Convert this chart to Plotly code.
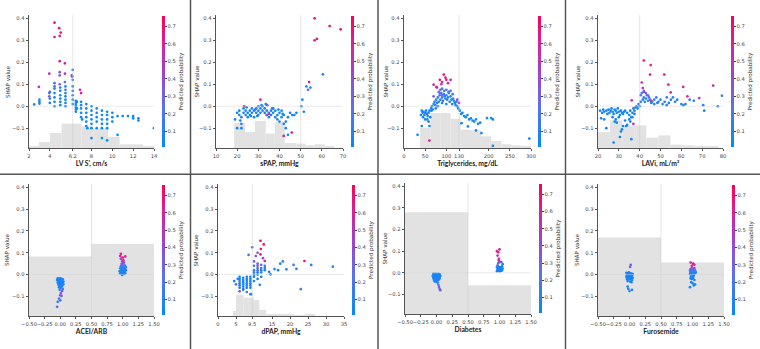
import plotly.graph_objects as go

# ---------------- data ----------------
# Panel 1: LV S'
lvs_x = [4.45, 4.9, 5.05, 4.45, 4.95, 4.95, 5.45, 3.95, 2.95, 5.45, 6.9, 7.0, 6.15,
         4.95, 4.95, 4.95, 3.95, 4.45, 6.1, 3.95, 5.45,
         2.5, 3.0, 3.0, 3.0, 4.0, 4.0, 4.0, 4.45, 4.45, 4.45, 4.45, 4.45, 4.45,
         5.0, 5.0, 5.0, 5.0, 5.0, 5.0, 5.5, 5.5, 5.5, 5.5, 5.5, 5.5, 5.5,
         6.2, 6.2, 6.2, 6.2, 6.2, 6.2, 6.2, 6.5, 6.5, 6.5, 6.5, 6.5, 6.5, 6.6, 6.6,
         7.0, 7.0, 7.0, 7.0, 7.0, 7.1, 7.5, 7.5, 7.5, 7.5, 7.5, 7.5, 7.6,
         8.0, 8.0, 8.0, 8.0, 8.0, 8.0, 8.0, 8.5, 8.5, 8.5, 8.5, 8.5,
         9.0, 9.0, 9.0, 9.0, 9.0, 9.0, 9.5, 9.5, 9.5, 9.5, 9.5, 9.5,
         10.0, 10.0, 10.0, 10.5, 10.5, 11.0, 11.5, 12.0, 12.0, 12.5, 12.5, 14.0]
lvs_shap = [0.38, 0.355, 0.335, 0.315, 0.32, 0.205, 0.195, 0.148, 0.088, 0.148, 0.075, 0.06, 0.135,
            0.155, 0.14, 0.1, 0.06, 0.09, 0.14, 0.045, 0.11,
            0.008, 0.03, 0.02, 0.012, 0.065, 0.035, 0.015, 0.105, 0.08, 0.06, 0.04, 0.02, 0.0,
            0.085, 0.07, 0.05, 0.035, 0.02, 0.005, 0.09, 0.075, 0.06, 0.045, 0.03, 0.015, 0.0,
            0.165, 0.12, 0.09, 0.07, 0.05, 0.03, 0.01, 0.025, 0.015, 0.005, -0.005, -0.015, -0.025, 0.02, -0.01,
            0.02, 0.005, -0.01, -0.03, -0.05, -0.06, 0.01, -0.01, -0.03, -0.05, -0.07, -0.09, -0.1,
            0.0, -0.02, -0.04, -0.06, -0.08, -0.1, -0.145, -0.01, -0.03, -0.05, -0.07, -0.1,
            -0.02, -0.04, -0.06, -0.08, -0.1, -0.145, -0.025, -0.04, -0.06, -0.08, -0.1, -0.155,
            -0.03, -0.05, -0.07, -0.13, -0.045, -0.045, -0.045, -0.045, -0.055, -0.055, -0.065, -0.1]
lvs_prob = [0.72, 0.68, 0.66, 0.62, 0.64, 0.6, 0.62, 0.55, 0.5, 0.5, 0.58, 0.6, 0.45,
            0.35, 0.3, 0.3, 0.35, 0.3, 0.3, 0.3, 0.25,
            0.06, 0.08, 0.06, 0.07, 0.1, 0.08, 0.07, 0.12, 0.1, 0.08, 0.07, 0.06, 0.05,
            0.1, 0.09, 0.08, 0.07, 0.06, 0.05, 0.1, 0.09, 0.08, 0.07, 0.06, 0.05, 0.05,
            0.12, 0.1, 0.09, 0.08, 0.07, 0.06, 0.05, 0.08, 0.07, 0.06, 0.05, 0.05, 0.04, 0.07, 0.05,
            0.07, 0.06, 0.05, 0.05, 0.04, 0.04, 0.07, 0.06, 0.05, 0.05, 0.04, 0.04, 0.04,
            0.06, 0.05, 0.05, 0.04, 0.04, 0.04, 0.03, 0.05, 0.05, 0.04, 0.04, 0.03,
            0.05, 0.05, 0.04, 0.04, 0.03, 0.03, 0.05, 0.05, 0.04, 0.04, 0.03, 0.03,
            0.05, 0.04, 0.04, 0.03, 0.05, 0.05, 0.05, 0.05, 0.04, 0.04, 0.04, 0.03]
lvs_edges = [2.0, 2.96, 4.01, 5.13, 7.04, 8.16, 9.6, 10.7, 12.95, 14.0]
lvs_hist = [0.013, 0.045, 0.113, 0.183, 0.163, 0.145, 0.083, 0.028, 0.015]

# Panel 2: sPAP
spap_x = [56.6, 63.7, 68.9, 57.7, 56.6, 54.0, 31.0, 23.3, 34.2, 42.0, 45.8,
          60.5, 52.7, 54.6, 50.8, 50.3, 51.5, 53.5,
          19, 20, 20, 21, 21, 22, 22, 22, 23, 23, 24, 24, 25, 25, 26, 26, 27, 27, 28, 28,
          29, 29, 30, 30, 30, 31, 31, 32, 32, 33, 33, 34, 34, 35, 35, 36, 36, 37, 37,
          38, 38, 39, 39, 40, 40, 41, 41, 42, 42, 43, 43, 44, 44, 45, 46, 47, 48,
          31.5, 34.0, 35.0, 21.5, 26.5, 28.5, 33.5, 36.5, 39.5, 41.5, 24.5, 29.5]
spap_shap = [0.40, 0.365, 0.35, 0.306, 0.30, 0.11, 0.03, 0.0, 0.005, -0.135, -0.12,
             0.145, 0.09, 0.085, 0.03, 0.0, -0.025, 0.075,
             -0.06, -0.03, -0.1, -0.04, -0.02, -0.05, -0.08, -0.1, -0.03, -0.01, -0.04, -0.02,
             -0.05, -0.03, -0.02, -0.04, -0.03, -0.01, -0.02, -0.05,
             -0.03, -0.01, -0.02, -0.04, 0.0, -0.01, -0.03, -0.02, 0.0, -0.03, -0.01, -0.04, -0.02,
             -0.03, -0.05, -0.02, -0.04, -0.03, -0.01,
             -0.05, -0.02, -0.04, -0.06, -0.03, -0.07, -0.05, -0.02, -0.08, -0.04, -0.07, -0.1,
             -0.13, -0.05, -0.03, -0.04, -0.04, -0.03,
             0.005, -0.04, -0.035, -0.065, -0.045, -0.015, 0.01, -0.01, -0.015, -0.035, -0.005, -0.045]
spap_prob = [0.72, 0.7, 0.66, 0.64, 0.62, 0.6, 0.6, 0.55, 0.5, 0.6, 0.55,
             0.08, 0.1, 0.12, 0.08, 0.07, 0.07, 0.15,
             0.05, 0.06, 0.06, 0.07, 0.06, 0.08, 0.07, 0.06, 0.07, 0.08, 0.06, 0.07,
             0.08, 0.07, 0.06, 0.07, 0.08, 0.06, 0.07, 0.06,
             0.08, 0.07, 0.06, 0.08, 0.09, 0.07, 0.06, 0.08, 0.07, 0.06, 0.07, 0.4, 0.07,
             0.08, 0.06, 0.07, 0.06, 0.07, 0.08,
             0.06, 0.07, 0.06, 0.05, 0.07, 0.06, 0.07, 0.06, 0.05, 0.06, 0.06, 0.05,
             0.05, 0.06, 0.07, 0.06, 0.06, 0.06,
             0.08, 0.35, 0.45, 0.06, 0.07, 0.06, 0.07, 0.08, 0.07, 0.06, 0.07, 0.06]
spap_edges = [18.6, 23.7, 28.4, 33.5, 37.8, 42.5, 48.0, 52.4, 56.6, 61.3, 66.0]
spap_hist = [0.188, 0.120, 0.203, 0.108, 0.195, 0.038, 0.033, 0.020, 0.028, 0.013]

# Panel 3: Triglycerides
tg_x = [40, 42, 44, 46, 48, 50, 52, 54, 56, 58, 60, 45, 55, 58, 62, 64, 66, 68, 70, 72, 74, 76,
        78, 80, 82, 84, 86, 88, 90, 92, 94, 96, 98, 100, 102, 104, 106, 108, 110, 112, 114, 116,
        118, 120, 122, 124, 126, 128, 132, 135, 138, 142, 146, 150, 154, 158, 162, 166, 170, 175,
        180, 196, 206, 210, 183, 151, 136, 170, 32, 42, 296, 210, 95, 100, 105, 90, 110, 115, 85,
        75, 65, 60, 50, 100, 90, 80,
        78, 86, 90, 126, 82, 70,
        70, 76.6, 94, 84.6, 90, 100, 110, 98, 130, 60, 104, 88]
tg_shap = [-0.04, -0.02, -0.03, -0.025, -0.04, -0.03, -0.02, -0.035, -0.045, -0.03, -0.02, -0.05,
           -0.06, -0.07, -0.05, -0.01, 0.0, -0.015, 0.01, 0.02, 0.005, 0.03, 0.015, 0.04, 0.02, 0.05,
           0.03, 0.06, 0.04, 0.025, 0.055, 0.045, 0.035, 0.05, 0.03, 0.04, 0.06, 0.02, 0.045, 0.03,
           0.01, 0.035, 0.025, 0.015, 0.005, 0.02, 0.0, -0.01, -0.02, -0.035, -0.03, -0.045, -0.05,
           -0.04, -0.06, -0.055, -0.065, -0.07, -0.06, -0.08, -0.075, -0.054, -0.054, -0.06, -0.122,
           -0.092, -0.077, -0.11, -0.13, -0.09, -0.147, -0.18, 0.07, 0.075, 0.065, 0.08, 0.07, 0.055,
           0.06, -0.01, -0.02, -0.09, -0.06, 0.01, 0.015, 0.0,
           0.085, 0.075, 0.05, 0.03, 0.065, 0.045,
           0.098, 0.088, 0.144, 0.12, 0.11, 0.12, 0.12, 0.13, 0.015, -0.156, 0.105, 0.1]
tg_prob = [0.06, 0.07, 0.06, 0.08, 0.07, 0.06, 0.07, 0.08, 0.06, 0.07, 0.08, 0.06, 0.07, 0.06,
           0.07, 0.08, 0.09, 0.07, 0.08, 0.1, 0.08, 0.12, 0.1, 0.14, 0.1, 0.15, 0.12, 0.16, 0.12,
           0.1, 0.14, 0.12, 0.1, 0.13, 0.1, 0.12, 0.15, 0.09, 0.12, 0.1, 0.08, 0.11, 0.09, 0.08,
           0.07, 0.09, 0.07, 0.06, 0.06, 0.06, 0.05, 0.06, 0.05, 0.06, 0.05, 0.05, 0.05, 0.05, 0.05,
           0.05, 0.05, 0.05, 0.05, 0.05, 0.04, 0.05, 0.05, 0.04, 0.05, 0.05, 0.04, 0.04, 0.16, 0.17,
           0.15, 0.18, 0.15, 0.12, 0.14, 0.07, 0.06, 0.06, 0.06, 0.08, 0.08, 0.07,
           0.35, 0.32, 0.3, 0.4, 0.28, 0.3,
           0.6, 0.62, 0.7, 0.66, 0.64, 0.62, 0.6, 0.68, 0.55, 0.6, 0.58, 0.5]
tg_edges = [38, 62, 86, 110, 134, 158, 182, 206, 230, 254, 278, 302]
tg_hist = [0.150, 0.263, 0.263, 0.220, 0.138, 0.133, 0.088, 0.053, 0.028, 0.020, 0.010]

# Panel 4: LAVi
lavi_x = [21, 22, 22.5, 23, 24, 24.5, 25, 25.5, 26, 26.5, 27, 27.5, 28, 28.5, 29, 29.5, 30, 30.5,
          31, 31.5, 32, 32.5, 33, 34, 35, 35.5, 36, 36.5, 37, 37.5, 38, 38.5, 39, 39.5, 40, 40.5,
          21.5, 23, 24, 27, 28, 28.5, 29, 30, 30.5, 31, 31.5, 32, 33, 34, 35, 36, 27.5, 33.5,
          35.5, 36.5, 37.5,
          40.5, 41, 41.5, 42, 42.5, 43, 43.5, 44, 44.5, 45, 45.5, 46, 47, 48, 48.5, 49, 50, 51,
          52, 53, 54, 55, 56, 57, 58, 60, 61, 62, 64, 66, 70.5, 71, 77.5, 79.5, 53, 47, 42, 43, 44,
          37, 42, 45.3, 45, 51.8, 53.8, 41, 41.5, 54.9, 60.9, 62.9, 68.6, 75.3, 36.2, 45.5, 42]
lavi_shap = [-0.02, -0.03, -0.015, -0.025, -0.02, -0.035, -0.015, -0.03, -0.02, -0.01, -0.025,
             -0.035, -0.015, -0.02, -0.03, -0.01, -0.025, -0.04, -0.02, -0.03, -0.035, -0.025,
             -0.02, -0.03, -0.04, -0.02, -0.05, -0.03, -0.01, -0.02, -0.005, 0.0, -0.01, 0.01, 0.0,
             0.02,
             -0.055, -0.06, -0.1, -0.05, -0.07, -0.06, -0.075, -0.05, -0.14, -0.115, -0.105, -0.09,
             -0.065, -0.085, -0.06, -0.15, -0.165, -0.09, -0.07, -0.05, -0.035,
             0.05, 0.06, 0.03, 0.04, 0.02, 0.035, 0.05, 0.025, 0.04, 0.03, 0.015, 0.02, 0.03, 0.04,
             0.015, 0.02, 0.03, 0.01, 0.02, 0.005, 0.015, 0.03, 0.04, 0.02, 0.03, 0.01, 0.005, 0.01,
             0.03, 0.025, 0.005, -0.02, 0.0, 0.048, 0.04, 0.01, 0.07, 0.06, 0.05,
             -0.08, 0.208, 0.187, 0.144, 0.144, 0.098, 0.108, 0.083, 0.063, 0.088, 0.045, 0.037,
             0.094, 0.027, 0.025, 0.065]
lavi_prob = [0.06, 0.07, 0.06, 0.08, 0.07, 0.06, 0.07, 0.06, 0.08, 0.07, 0.06, 0.07, 0.08, 0.06,
             0.07, 0.06, 0.08, 0.07, 0.06, 0.07, 0.06, 0.08, 0.07, 0.06, 0.07, 0.08, 0.06, 0.07,
             0.08, 0.07, 0.1, 0.09, 0.08, 0.1, 0.12, 0.12,
             0.05, 0.06, 0.05, 0.06, 0.05, 0.06, 0.05, 0.06, 0.05, 0.05, 0.06, 0.05, 0.06, 0.05,
             0.06, 0.05, 0.05, 0.06, 0.06, 0.07, 0.08,
             0.15, 0.16, 0.12, 0.14, 0.12, 0.13, 0.15, 0.12, 0.14, 0.12, 0.1, 0.12, 0.12, 0.14, 0.1,
             0.11, 0.12, 0.1, 0.11, 0.09, 0.1, 0.12, 0.13, 0.1, 0.11, 0.09, 0.08, 0.09, 0.1, 0.1,
             0.08, 0.08, 0.08, 0.12, 0.12, 0.09, 0.2, 0.3, 0.32,
             0.62, 0.66, 0.62, 0.6, 0.64, 0.58, 0.55, 0.5, 0.55, 0.56, 0.6, 0.55, 0.6, 0.55, 0.5, 0.45]
lavi_edges = [20.0, 25.8, 31.6, 37.4, 43.2, 49.0, 54.8, 60.6, 66.4, 72.2, 78.0]
lavi_hist = [0.120, 0.208, 0.170, 0.170, 0.078, 0.095, 0.025, 0.020, 0.015, 0.013]

# Panel 5: ACEI/ARB
acei_x = [-0.04, -0.02, 0.0, 0.02, 0.04, -0.03, -0.01, 0.01, 0.03, 0.05, -0.04, -0.02, 0.0, 0.02,
          0.04, -0.03, -0.01, 0.01, 0.03, -0.02, 0.0, 0.02, 0.04, -0.01, 0.03, 0.01, 0.0, 0.02,
          -0.02, 0.0, -0.04, -0.05, -0.05, 0.05,
          0.96, 0.98, 1.0, 1.02, 1.04, 0.97, 0.99, 1.01, 1.03, 1.05, 0.96, 0.98, 1.0, 1.02, 1.04,
          0.97, 0.99, 1.01, 1.03, 0.98, 1.0, 1.02, 0.99, 1.01, 0.97, 1.0, 0.96, 1.04, 0.97, 1.02,
          0.99, 0.95, 1.05]
acei_shap = [-0.018, -0.02, -0.018, -0.02, -0.022, -0.028, -0.03, -0.027, -0.03, -0.032, -0.036,
             -0.04, -0.038, -0.04, -0.036, -0.046, -0.05, -0.048, -0.052, -0.058, -0.062, -0.056,
             -0.066, -0.07, -0.075, -0.085, -0.095, -0.098, -0.11, -0.118, -0.125, -0.148, -0.025,
             -0.045,
             0.005, 0.01, 0.008, 0.012, 0.006, 0.018, 0.02, 0.022, 0.016, 0.02, 0.028, 0.03, 0.032,
             0.026, 0.03, 0.038, 0.04, 0.036, 0.042, 0.048, 0.05, 0.055, 0.06, 0.065, 0.072, 0.078,
             0.085, 0.083, 0.095, 0.003, -0.002, 0.015, 0.035]
acei_prob = [0.06, 0.07, 0.08, 0.06, 0.07, 0.08, 0.06, 0.07, 0.08, 0.06, 0.07, 0.08, 0.06, 0.07,
             0.08, 0.06, 0.07, 0.08, 0.06, 0.07, 0.1, 0.08, 0.12, 0.15, 0.35, 0.3, 0.4, 0.3, 0.2,
             0.15, 0.12, 0.25, 0.07, 0.08,
             0.06, 0.07, 0.08, 0.06, 0.07, 0.08, 0.06, 0.09, 0.07, 0.08, 0.1, 0.09, 0.12, 0.1, 0.11,
             0.15, 0.2, 0.18, 0.15, 0.3, 0.35, 0.4, 0.38, 0.55, 0.4, 0.6, 0.62, 0.58, 0.6, 0.06,
             0.06, 0.08, 0.12]
acei_edges = [-0.5, 0.5, 1.5]
acei_hist = [0.45, 0.547]

# Panel 6: dPAP
dpap_x = [4.5, 6, 6, 6, 6, 6, 6, 7, 7, 7, 7, 7, 7, 7, 8, 8, 8, 8, 8, 8, 8, 9, 9, 9, 9, 9, 9, 9,
          10, 10, 10, 10, 10, 10, 10, 11, 11, 11, 11, 11, 11, 11, 12, 12, 12, 12, 12, 13, 13, 13,
          9.5, 8.5, 5.5, 5, 6, 9.2, 11.6, 14.2, 14.6, 15.7, 16.7, 17.3, 18, 19, 21, 21.8, 23, 25.9,
          31.9, 10.5, 12.5, 11,
          24, 13, 11.8, 12.7, 11.9, 11.8]
dpap_shap = [-0.03, -0.01, -0.02, -0.03, -0.04, -0.05, -0.06, -0.015, -0.025, -0.035, -0.045,
             -0.055, -0.065, -0.07, -0.01, -0.02, -0.03, -0.04, -0.05, -0.06, -0.08, -0.01, -0.02,
             -0.03, -0.04, -0.05, -0.06, -0.09, 0.0, 0.01, 0.02, -0.01, -0.03, 0.04, 0.06, 0.0,
             0.01, 0.02, 0.03, 0.04, 0.05, -0.02, 0.01, 0.02, 0.03, 0.045, -0.01, 0.04, 0.03, 0.02,
             0.125, 0.09, -0.02, -0.045, -0.077, -0.09, -0.047, 0.012, 0.001, 0.025, 0.02, 0.05,
             0.06, 0.024, 0.044, 0.026, -0.067, 0.044, 0.036, 0.085, 0.075, 0.1,
             0.062, 0.062, 0.155, 0.138, 0.117, 0.092]
dpap_prob = [0.08, 0.07, 0.08, 0.07, 0.08, 0.07, 0.1, 0.07, 0.08, 0.07, 0.08, 0.07, 0.1, 0.12,
             0.07, 0.08, 0.07, 0.08, 0.07, 0.08, 0.15, 0.07, 0.08, 0.07, 0.08, 0.07, 0.1, 0.12, 0.1,
             0.12, 0.15, 0.08, 0.1, 0.2, 0.3, 0.1, 0.12, 0.14, 0.18, 0.25, 0.35, 0.08, 0.12, 0.15,
             0.2, 0.25, 0.08, 0.12, 0.1, 0.1,
             0.15, 0.2, 0.07, 0.3, 0.35, 0.12, 0.1, 0.08, 0.08, 0.08, 0.08, 0.1, 0.12, 0.08, 0.15,
             0.1, 0.18, 0.12, 0.1, 0.4, 0.38, 0.4,
             0.68, 0.62, 0.72, 0.7, 0.66, 0.6]
dpap_edges = [4.2, 5.0, 7.1, 10.0, 11.5, 13.4, 15.0, 18.0, 21.0, 24.0, 27.0]
dpap_hist = [0.038, 0.160, 0.139, 0.122, 0.046, 0.010, 0.008, 0.010, 0.006, 0.012]

# Panel 7: Diabetes
diab_x = [-0.05, -0.03, -0.01, 0.01, 0.03, 0.05, -0.06, -0.04, -0.02, 0.0, 0.02, 0.04, 0.06,
          -0.05, -0.03, -0.01, 0.01, 0.03, 0.05, -0.04, -0.02, 0.0, 0.02, 0.04, -0.03, 0.0, 0.02,
          0.03, 0.04, 0.05, 0.06,
          0.96, 0.98, 1.0, 1.02, 1.04, 0.97, 0.99, 1.01, 1.03, 1.05, 0.96, 0.98, 1.0, 1.02, 1.04,
          0.97, 1.03, 1.05,
          0.96, 0.98, 1.0, 0.97, 0.99, 1.0, 0.98, 0.99]
diab_shap = [-0.005, -0.006, -0.004, -0.008, -0.005, -0.007, -0.015, -0.014, -0.016, -0.013,
             -0.015, -0.017, -0.014, -0.024, -0.023, -0.026, -0.022, -0.025, -0.024, -0.032,
             -0.033, -0.031, -0.034, -0.03, -0.04, -0.042, -0.045, -0.055, -0.065, -0.075, -0.08,
             0.008, 0.01, 0.007, 0.009, 0.011, 0.017, 0.019, 0.016, 0.018, 0.02, 0.026, 0.028,
             0.025, 0.027, 0.03, 0.035, 0.05, 0.04,
             0.1, 0.095, 0.108, 0.08, 0.065, 0.05, 0.045, 0.058]
diab_prob = [0.07, 0.08, 0.06, 0.07, 0.08, 0.06, 0.07, 0.08, 0.06, 0.07, 0.08, 0.06, 0.07, 0.08,
             0.06, 0.07, 0.08, 0.06, 0.07, 0.08, 0.06, 0.07, 0.08, 0.1, 0.1, 0.12, 0.15, 0.2, 0.3,
             0.32, 0.3,
             0.07, 0.08, 0.06, 0.07, 0.08, 0.06, 0.07, 0.08, 0.06, 0.07, 0.08, 0.06, 0.07, 0.08,
             0.06, 0.1, 0.12, 0.1,
             0.62, 0.6, 0.66, 0.58, 0.5, 0.45, 0.35, 0.55]
diab_edges = [-0.5, 0.5, 1.5]
diab_hist = [0.776, 0.219]

# Panel 8: Furosemide
furo_x = [-0.05, -0.03, -0.01, 0.01, 0.03, 0.05, -0.04, -0.02, 0.0, 0.02, 0.04, -0.05, -0.03,
          -0.01, 0.01, 0.03, 0.05, -0.04, -0.02, 0.0, 0.02, 0.04, -0.03, 0.01, 0.03,
          0.02, 0.01, -0.02, 0.0, 0.04, -0.03,
          0.96, 0.98, 1.0, 1.02, 1.04, 0.97, 0.99, 1.01, 1.03, 1.05, 0.96, 0.98, 1.0, 1.02, 1.04,
          0.97, 0.99, 1.01, 1.03, 0.98, 1.0, 1.02, 0.97, 0.99, 1.01, 1.03, 0.98, 1.0, 1.02, 0.96,
          1.04, 0.99, 1.01, 0.97, 1.03]
furo_shap = [0.008, 0.005, 0.01, 0.006, 0.004, 0.002, -0.003, -0.005, 0.0, -0.004, -0.006, -0.01,
             -0.012, -0.009, -0.011, -0.013, -0.015, -0.02, -0.018, -0.022, -0.019, -0.025, -0.03,
             -0.032, -0.035,
             0.045, 0.035, -0.065, -0.075, -0.07, -0.055,
             0.002, 0.005, 0.0, 0.004, 0.006, 0.01, 0.012, 0.009, 0.014, 0.011, 0.018, 0.02, 0.016,
             0.022, 0.019, 0.026, 0.028, 0.025, 0.03, -0.008, -0.01, -0.006, -0.018, -0.02, -0.016,
             -0.025, -0.035, -0.04, -0.05, -0.058, -0.045,
             0.04, 0.05, 0.055, 0.045]
furo_prob = [0.07, 0.08, 0.06, 0.07, 0.08, 0.06, 0.07, 0.08, 0.06, 0.07, 0.08, 0.06, 0.07, 0.08,
             0.06, 0.07, 0.08, 0.06, 0.07, 0.08, 0.06, 0.07, 0.08, 0.06, 0.07,
             0.35, 0.3, 0.1, 0.12, 0.1, 0.08,
             0.07, 0.08, 0.06, 0.1, 0.08, 0.1, 0.12, 0.09, 0.14, 0.1, 0.15, 0.2, 0.12, 0.25, 0.18,
             0.3, 0.35, 0.28, 0.4, 0.07, 0.06, 0.07, 0.06, 0.07, 0.06, 0.07, 0.06, 0.07, 0.06, 0.07,
             0.06, 0.6, 0.65, 0.55, 0.5]
furo_edges = [-0.5, 0.5, 1.5]
furo_hist = [0.595, 0.405]

# tick labels
lvs_ticks = [2, 4, 6.2, 8, 10, 12, 14]
spap_ticks = [10, 20, 30, 40, 50, 60, 70]
tg_ticks = [0, 50, 100, 130, 200, 250, 300]
lavi_ticks = [20, 30, 40, 50, 60, 70, 80]
dpap_ticks = [0, 5, 9.5, 15, 20, 25, 30, 35]
binary_ticks = [-0.5, -0.25, 0.0, 0.25, 0.5, 0.75, 1.0, 1.25, 1.5]
binary_ticktext = ["\u22120.50", "\u22120.25", "0.00", "0.25", "0.50", "0.75", "1.00", "1.25", "1.50"]
shap_ticks = [-0.1, 0.0, 0.1, 0.2, 0.3, 0.4]
shap_ticktext = ["\u22120.1", "0.0", "0.1", "0.2", "0.3", "0.4"]
prob_ticks = [0.1, 0.2, 0.3, 0.4, 0.5, 0.6, 0.7]
cutoffs = [6.2, 50, 130, 40, 0.5, 9.5, 0.5, 0.5]
titles = ["LV S', cm/s", "sPAP, mmHg", "Triglycerides, mg/dL", "LAVi, mL/m\u00b2",
          "ACEI/ARB", "dPAP, mmHg", "Diabetes", "Furosemide"]

# ---------------- layout helpers ----------------
W, H = 760, 349
panels = [
    dict(x=lvs_x, y=lvs_shap, c=lvs_prob, e=lvs_edges, h=lvs_hist, rng=[2, 14], tv=lvs_ticks,
         px=(29, 154), py=(15, 148), cb=162, yt=7.5),
    dict(x=spap_x, y=spap_shap, c=spap_prob, e=spap_edges, h=spap_hist, rng=[10, 70], tv=spap_ticks,
         px=(216, 343), py=(15, 148), cb=351, yt=196),
    dict(x=tg_x, y=tg_shap, c=tg_prob, e=tg_edges, h=tg_hist, rng=[0, 300], tv=tg_ticks,
         px=(404, 531), py=(15, 148), cb=538, yt=385),
    dict(x=lavi_x, y=lavi_shap, c=lavi_prob, e=lavi_edges, h=lavi_hist, rng=[20, 80], tv=lavi_ticks,
         px=(598, 723), py=(15, 148), cb=731, yt=577),
    dict(x=acei_x, y=acei_shap, c=acei_prob, e=acei_edges, h=acei_hist, rng=[-0.5, 1.5],
         tv=binary_ticks, tt=binary_ticktext, px=(29, 154), py=(184, 316), cb=162, yt=7),
    dict(x=dpap_x, y=dpap_shap, c=dpap_prob, e=dpap_edges, h=dpap_hist, rng=[0, 35], tv=dpap_ticks,
         px=(218, 344), py=(184, 316), cb=352, yt=195.5),
    dict(x=diab_x, y=diab_shap, c=diab_prob, e=diab_edges, h=diab_hist, rng=[-0.5, 1.5],
         tv=binary_ticks, tt=binary_ticktext, px=(405, 531), py=(183, 314), cb=539, yt=384),
    dict(x=furo_x, y=furo_shap, c=furo_prob, e=furo_edges, h=furo_hist, rng=[-0.5, 1.5],
         tv=binary_ticks, tt=binary_ticktext, px=(598, 724), py=(184, 316), cb=732, yt=577),
]

cscale = [[0.0, "#008bfb"], [0.3, "#5a72ec"], [0.55, "#9b45d0"], [0.8, "#dc1f97"], [1.0, "#ff0052"]]
AX = "#555555"
TXT = "#444444"
TICKF = dict(family="DejaVu Sans", size=5.2, color=TXT)

fig = go.Figure()
layout = dict(width=W, height=H, margin=dict(l=0, r=0, t=0, b=0, autoexpand=False),
              paper_bgcolor="white", plot_bgcolor="rgba(0,0,0,0)", showlegend=False)
shapes = []
annotations = []

for i, p in enumerate(panels):
    n = i + 1
    xa = "x" if n == 1 else f"x{n}"
    ya = "y" if n == 1 else f"y{n}"
    yo = f"y{n + 8}"
    xkey = "xaxis" if n == 1 else f"xaxis{n}"
    ykey = "yaxis" if n == 1 else f"yaxis{n}"
    ok = f"yaxis{n + 8}"
    xd = [p["px"][0] / W, p["px"][1] / W]
    yd = [1 - p["py"][1] / H, 1 - p["py"][0] / H]

    e = p["e"]
    centers = [(e[k] + e[k + 1]) / 2 for k in range(len(e) - 1)]
    widths = [e[k + 1] - e[k] for k in range(len(e) - 1)]
    fig.add_trace(go.Bar(x=centers, y=p["h"], width=widths, xaxis=xa, yaxis=ya,
                         marker=dict(color="#e2e2e2", line=dict(width=0)), hoverinfo="skip"))
    fig.add_trace(go.Scatter(
        x=p["x"], y=p["y"], mode="markers", xaxis=xa, yaxis=yo,
        marker=dict(size=2.7, color=p["c"], colorscale=cscale, cmin=0.01, cmax=0.76,
                    line=dict(width=0), showscale=True,
                    colorbar=dict(x=p["cb"] / W, xanchor="left", xpad=0, ypad=0,
                                  y=(yd[0] + yd[1]) / 2, yanchor="middle",
                                  len=(yd[1] - yd[0]) * 0.985, lenmode="fraction",
                                  thickness=2.5, outlinewidth=0,
                                  tickvals=prob_ticks, tickfont=TICKF, ticks="outside",
                                  ticklen=2, tickwidth=0.6, tickcolor=TXT,
                                  title=dict(text="Predicted probability", side="right",
                                             font=dict(family="DejaVu Sans", size=5.6, color="#333")))),
    ))
    tt = p.get("tt", [("%g" % v) for v in p["tv"]])
    layout[xkey] = dict(domain=xd, range=p["rng"], anchor=ya, tickvals=p["tv"], ticktext=tt,
                        tickangle=0, automargin=False,
                        showline=True, linecolor=AX, linewidth=0.8, ticks="outside", ticklen=2.5,
                        tickwidth=0.6, tickcolor=AX, tickfont=TICKF, showgrid=False, zeroline=False,
                        title=dict(text=titles[i], standoff=3,
                                   font=dict(family="Lato", size=6.8, color="#222", weight="bold")))
    layout[ykey] = dict(domain=yd, range=[0, 1], anchor=xa, visible=False, fixedrange=True,
                        automargin=False)
    layout[ok] = dict(domain=yd, range=[-0.19, 0.415], anchor=xa, overlaying=ya, side="left",
                      automargin=False,
                      tickvals=shap_ticks, ticktext=shap_ticktext, showline=True, linecolor=AX,
                      linewidth=0.8, ticks="outside", ticklen=2.5, tickwidth=0.6, tickcolor=AX,
                      tickfont=TICKF, showgrid=False, zeroline=False)
    annotations.append(dict(text="SHAP value", xref="paper", yref="paper", x=p["yt"] / W,
                            y=(yd[0] + yd[1]) / 2, xanchor="center", yanchor="middle",
                            textangle=-90, showarrow=False,
                            font=dict(family="DejaVu Sans", size=5.6, color="#333")))
    shapes.append(dict(type="line", xref=xa, yref=f"{yo} domain", x0=cutoffs[i], x1=cutoffs[i],
                       y0=0, y1=1, line=dict(color="rgba(200,200,200,0.6)", width=0.8), layer="above"))
    shapes.append(dict(type="line", xref=f"{xa} domain", yref=yo, x0=0, x1=1, y0=0, y1=0,
                       line=dict(color="rgba(210,210,210,0.6)", width=0.8), layer="above"))

# panel separators
for xs in [190.5, 378, 565.5]:
    shapes.append(dict(type="line", xref="paper", yref="paper", x0=xs / W, x1=xs / W, y0=0, y1=1,
                       line=dict(color="#555555", width=1.5)))
shapes.append(dict(type="line", xref="paper", yref="paper", x0=0, x1=1, y0=1 - 174.3 / H,
                   y1=1 - 174.3 / H, line=dict(color="#555555", width=1.5)))
layout["shapes"] = shapes
layout["annotations"] = annotations
fig.update_layout(**layout)
fig.write_html("out.html")
